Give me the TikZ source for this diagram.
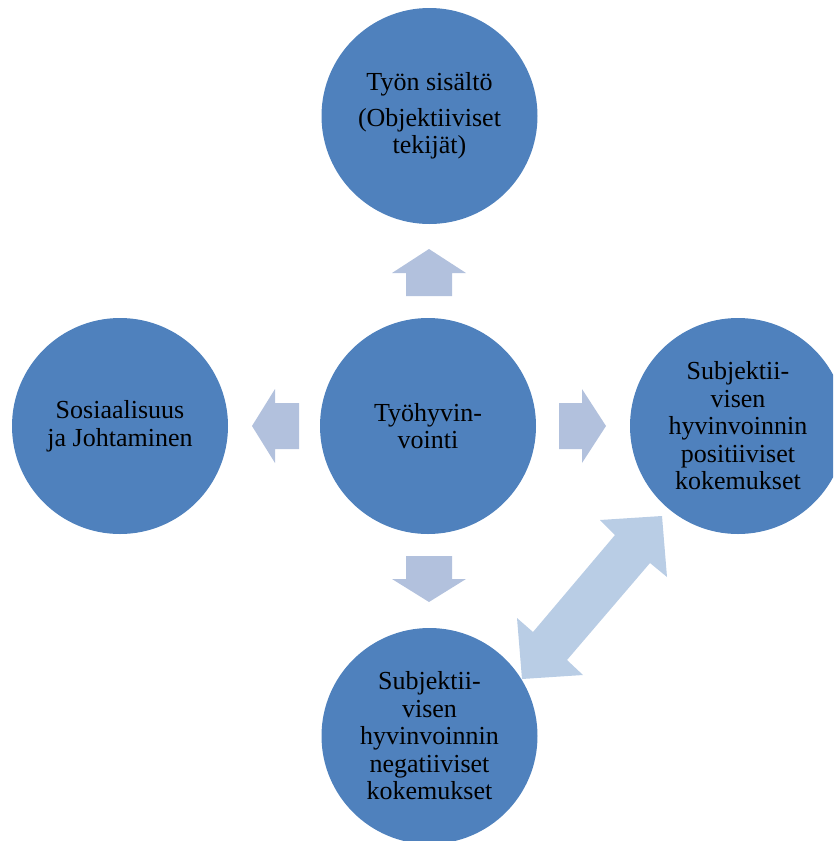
\documentclass[tikz,border=0pt]{standalone}
\usepackage{fontspec}
\setmainfont{Liberation Serif}
\definecolor{circblue}{HTML}{4F81BD}
\definecolor{arrowblue}{HTML}{B2C1DD}
\definecolor{darrowblue}{HTML}{B9CDE5}
\tikzset{
  bubble/.style={circle, fill=circblue, draw=none, minimum size=216pt, inner sep=0pt,
    align=center, text=black, font=\fontsize{26}{27.5}\selectfont},
  blockarrow/.style={fill=arrowblue, draw=none},
  dblarrow/.style={fill=darrowblue, draw=none}
}
\begin{document}
\begin{tikzpicture}[x=1pt,y=-1pt]
\useasboundingbox (0,0) rectangle (833,841);
\begin{scope}
\clip (0,0) rectangle (833,841);
\node[bubble] (top) at (429.5,116) {Työn sisältö\\[8pt](Objektiiviset\\tekijät)};
\node[bubble] (mid) at (428,426) {Työhyvin-\\vointi};
\node[bubble] (left) at (120,426) {Sosiaalisuus\\ja Johtaminen};
\node[bubble] (right) at (738,426) {Subjektii-\\visen\\hyvinvoinnin\\positiiviset\\kokemukset};
\node[bubble] (bottom) at (429.5,736) {Subjektii-\\visen\\hyvinvoinnin\\negatiiviset\\kokemukset};
\end{scope}
% up arrow
\fill[blockarrow] (406,296) -- (452,296) -- (452,273) -- (466,273) -- (429,249) -- (392,273) -- (406,273) -- cycle;
% down arrow
\fill[blockarrow] (406,556) -- (452,556) -- (452,579) -- (466,579) -- (429,602) -- (392,579) -- (406,579) -- cycle;
% left arrow
\fill[blockarrow] (299,403) -- (299,449) -- (275,449) -- (275,463) -- (252,426) -- (275,389) -- (275,403) -- cycle;
% right arrow
\fill[blockarrow] (559,403) -- (559,449) -- (582,449) -- (582,463) -- (606,426) -- (582,389) -- (582,403) -- cycle;
% double arrow
\fill[dblarrow] (662,516) -- (600,520) -- (615,535) -- (533,632) -- (517,618) -- (522,679) -- (583,675) -- (567,660) -- (650,563) -- (667,577) -- cycle;
\end{tikzpicture}
\end{document}
